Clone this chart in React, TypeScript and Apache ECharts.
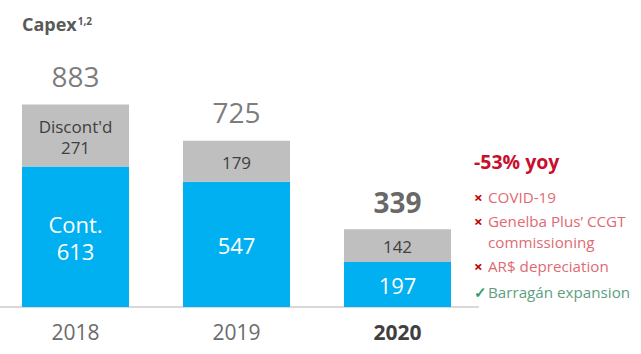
import React, { useEffect, useRef } from "react";
import * as echarts from "echarts";

const categories = ["2018", "2019", "2020"];
const contValues = [613, 547, 197];
const discValues = [271, 179, 142];
const totals = [883, 725, 339];
const contLabels = ["Cont.\n613", "547", "197"];
const discLabels = ["Discont'd\n271", "179", "142"];
const headline = "-53% yoy";
const drivers = [
  { mark: "×", text: "COVID-19", good: false },
  { mark: "×", text: "Genelba Plus’ CCGT\ncommissioning", good: false },
  { mark: "×", text: "AR$ depreciation", good: false },
  { mark: "✓", text: "Barragán expansion", good: true },
];

const FONT = "'Open Sans', 'Noto Sans', sans-serif";
const SHIFT = 5; // chart div is shifted left by this many pixels

export default function App() {
  const ref = useRef<HTMLDivElement>(null);
  useEffect(() => {
    if (!ref.current) return;
    const chart = echarts.init(ref.current, undefined, { renderer: "svg" });
    const driverY = [197, 221, 266, 292];
    const graphics: any[] = [
      {
        type: "text",
        x: 22 + SHIFT,
        y: 13,
        style: {
          text: "{t|Capex}{s|1,2}",
          rich: {
            t: { fontSize: 18, fontWeight: "bold", fill: "#595959", fontFamily: FONT, lineHeight: 22 },
            s: { fontSize: 10, fontWeight: "bold", fill: "#595959", fontFamily: FONT, lineHeight: 22, padding: [0, 0, 6, 1] },
          },
        },
      },
      {
        type: "text",
        x: 474 + SHIFT,
        y: 161,
        style: {
          text: headline,
          fontSize: 19.5,
          fontWeight: "bold",
          fill: "#C8102E",
          fontFamily: FONT,
          verticalAlign: "middle",
        },
      },
    ];
    drivers.forEach((d, i) => {
      graphics.push({
        type: "text",
        x: 474 + SHIFT,
        y: driverY[i],
        style: {
          text: d.mark,
          fontSize: 15,
          fontWeight: "bold",
          fill: d.good ? "#2E9D6A" : "#C00000",
          fontFamily: FONT,
          verticalAlign: "middle",
        },
      });
      graphics.push({
        type: "text",
        x: 488 + SHIFT,
        y: driverY[i] - 11,
        style: {
          text: d.text,
          fontSize: 15.2,
          lineHeight: 21,
          fill: d.good ? "#5E9E80" : "#E06A73",
          fontFamily: FONT,
          verticalAlign: "top",
        },
      });
    });

    chart.setOption({
      animation: false,
      grid: { left: 0, right: 163, top: 78, bottom: 47 },
      graphic: graphics,
      xAxis: {
        type: "category",
        data: categories,
        axisLine: { lineStyle: { color: "#D9D9D9", width: 2 } },
        axisTick: { show: false },
        axisLabel: {
          margin: 14,
          formatter: (v: string, i: number) => (i === 2 ? `{b|${v}}` : `{n|${v}}`),
          rich: {
            n: { fontSize: 21, color: "#6b6b6b", fontFamily: FONT, lineHeight: 22 },
            b: { fontSize: 21, fontWeight: "bold", color: "#404040", fontFamily: FONT, lineHeight: 22 },
          },
        },
      },
      yAxis: { type: "value", min: 0, max: 1000, show: false, splitLine: { show: false } },
      series: [
        {
          type: "bar",
          stack: "capex",
          barWidth: 107,
          data: contValues.map((v, i) => ({
            value: v,
            label: { formatter: contLabels[i] },
          })),
          itemStyle: { color: "#00B0F0" },
          label: {
            show: true,
            position: "inside",
            offset: [0, 1],
            color: "#ffffff",
            fontSize: 22,
            lineHeight: 27,
            fontFamily: FONT,
          },
        },
        {
          type: "bar",
          stack: "capex",
          barWidth: 107,
          data: discValues.map((v, i) => ({
            value: v,
            label: { formatter: discLabels[i] },
          })),
          itemStyle: { color: "#BFBFBF" },
          label: {
            show: true,
            position: "inside",
            offset: [0, 1],
            color: "#404040",
            fontSize: 17,
            lineHeight: 21,
            fontFamily: FONT,
          },
        },
        {
          type: "scatter",
          data: totals.map((v, i) => ({
            value: [i, v],
            label:
              i === 2
                ? { fontWeight: "bold", color: "#404040", distance: 12 }
                : { distance: 14 },
          })),
          symbol: "circle",
          symbolSize: 2,
          itemStyle: { color: "rgba(0,0,0,0)" },
          silent: true,
          z: 5,
          label: {
            show: true,
            position: "top",
            formatter: (p: any) => String(p.value[1]),
            fontSize: 28,
            lineHeight: 28,
            color: "#595959",
            fontFamily: FONT,
          },
        },
      ],
    });
    return () => chart.dispose();
  }, []);
  return (
    <div
      ref={ref}
      style={{ width: 641 + SHIFT, height: 354, position: "absolute", left: -SHIFT, top: 0 }}
    />
  );
}
